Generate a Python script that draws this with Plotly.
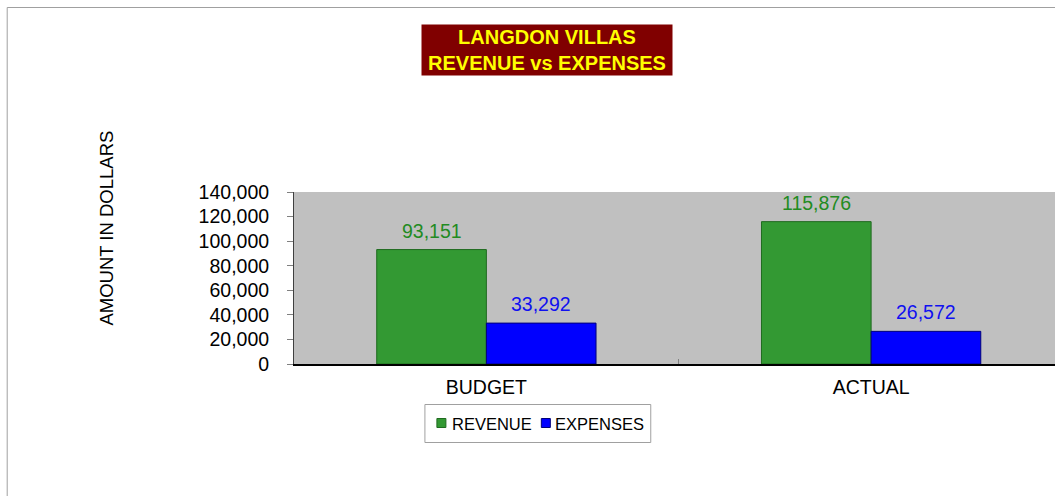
import plotly.graph_objects as go

categories = ["BUDGET", "ACTUAL"]
revenue = [93151, 115876]
expenses = [33292, 26572]
series_names = ["REVENUE", "EXPENSES"]
y_ticks = [0, 20000, 40000, 60000, 80000, 100000, 120000, 140000]

W, H = 1055, 496
L, R, T, B = 293.5, 0, 192, 132
BARGAP = 0.43
FONT = "Arial, Liberation Sans, sans-serif"

green = "#339933"
blue = "#0000FF"

fig = go.Figure()
fig.add_trace(go.Bar(x=categories, y=revenue, name=series_names[0],
                     marker=dict(color=green, line=dict(color="#1f6a1f", width=1))))
fig.add_trace(go.Bar(x=categories, y=expenses, name=series_names[1],
                     marker=dict(color=blue, line=dict(color="#00007a", width=1))))

pw = W - L - R
ph = H - T - B

def px_x(p):
    return (p - L) / pw

def px_y(p):
    return (H - B - p) / ph

# data labels
half = (1 - BARGAP) / 4
anns = []
for i, c in enumerate(categories):
    anns.append(dict(x=i - half, y=revenue[i], xref="x", yref="y", text=f"{revenue[i]:,}",
                     showarrow=False, yanchor="bottom", yshift=6,
                     font=dict(family=FONT, size=19.5, color="#228B22")))
    anns.append(dict(x=i + half, y=expenses[i], xref="x", yref="y", text=f"{expenses[i]:,}",
                     showarrow=False, yanchor="bottom", yshift=6,
                     font=dict(family=FONT, size=19.5, color="#1010F0")))

# title box
anns.append(dict(x=px_x(547), y=px_y(50), xref="paper", yref="paper",
                 text="<b>LANGDON VILLAS<br>REVENUE vs EXPENSES</b>", showarrow=False,
                 xanchor="center", yanchor="middle", bgcolor="#800000",
                 width=246, height=46, borderpad=2,
                 font=dict(family=FONT, size=20, color="#FFFF00")))

# y axis title
anns.append(dict(x=px_x(105), y=px_y(228), xref="paper", yref="paper",
                 text="AMOUNT IN DOLLARS", showarrow=False, textangle=-90,
                 xanchor="center", yanchor="middle",
                 font=dict(family=FONT, size=18.5, color="#000000")))

shapes = [dict(type="rect", xref="paper", yref="paper",
               x0=px_x(6.5), x1=px_x(1070), y0=px_y(7.5), y1=px_y(510),
               line=dict(color="#A0A0A0", width=1), fillcolor="rgba(0,0,0,0)", layer="below")]

# legend (drawn manually to match the compact layout)
shapes.append(dict(type="rect", xref="paper", yref="paper",
                   x0=px_x(424.5), x1=px_x(650.5), y0=px_y(404.5), y1=px_y(442.5),
                   line=dict(color="#A0A0A0", width=1), fillcolor="white"))
legend_items = [(series_names[0], green, "#1f6a1f", 436.5, 452),
                (series_names[1], blue, "#00007a", 541, 555)]
for name, col, lc, sx, tx in legend_items:
    shapes.append(dict(type="rect", xref="paper", yref="paper",
                       x0=px_x(sx), x1=px_x(sx + 9), y0=px_y(418.5), y1=px_y(427.5),
                       line=dict(color=lc, width=1), fillcolor=col))
    anns.append(dict(x=px_x(tx), y=px_y(423.5), xref="paper", yref="paper", text=name,
                     showarrow=False, xanchor="left", yanchor="middle", borderpad=0,
                     xshift=-1,
                     font=dict(family=FONT, size=16.5, color="#000000")))

fig.update_layout(
    width=W, height=H,
    margin=dict(l=L, r=R, t=T, b=B, autoexpand=False),
    paper_bgcolor="white", plot_bgcolor="#C0C0C0",
    barmode="group", bargap=BARGAP, bargroupgap=0,
    showlegend=False,
    annotations=anns, shapes=shapes,
    font=dict(family=FONT, color="#000000"),
)
fig.update_xaxes(range=[-0.5, 1.5 - (L + 385 * 2 - W) / 385],
                 showline=True, linecolor="#000000", linewidth=2,
                 ticks="inside", tickson="boundaries", ticklen=5, tickcolor="#808080",
                 tickfont=dict(family=FONT, size=19.5, color="#000000"),
                 ticklabelstandoff=5, showgrid=False, zeroline=False)
fig.update_yaxes(range=[0, 140000], tickvals=y_ticks, tickformat=",",
                 showline=True, linecolor="#404040", linewidth=1,
                 ticks="outside", ticklen=6, tickcolor="#808080",
                 tickfont=dict(family=FONT, size=19.5, color="#000000"),
                 ticklabelstandoff=14, showgrid=False, zeroline=False)

fig.write_html("out.html", config={"displayModeBar": False},
               post_script="document.body.style.margin='0px';")
